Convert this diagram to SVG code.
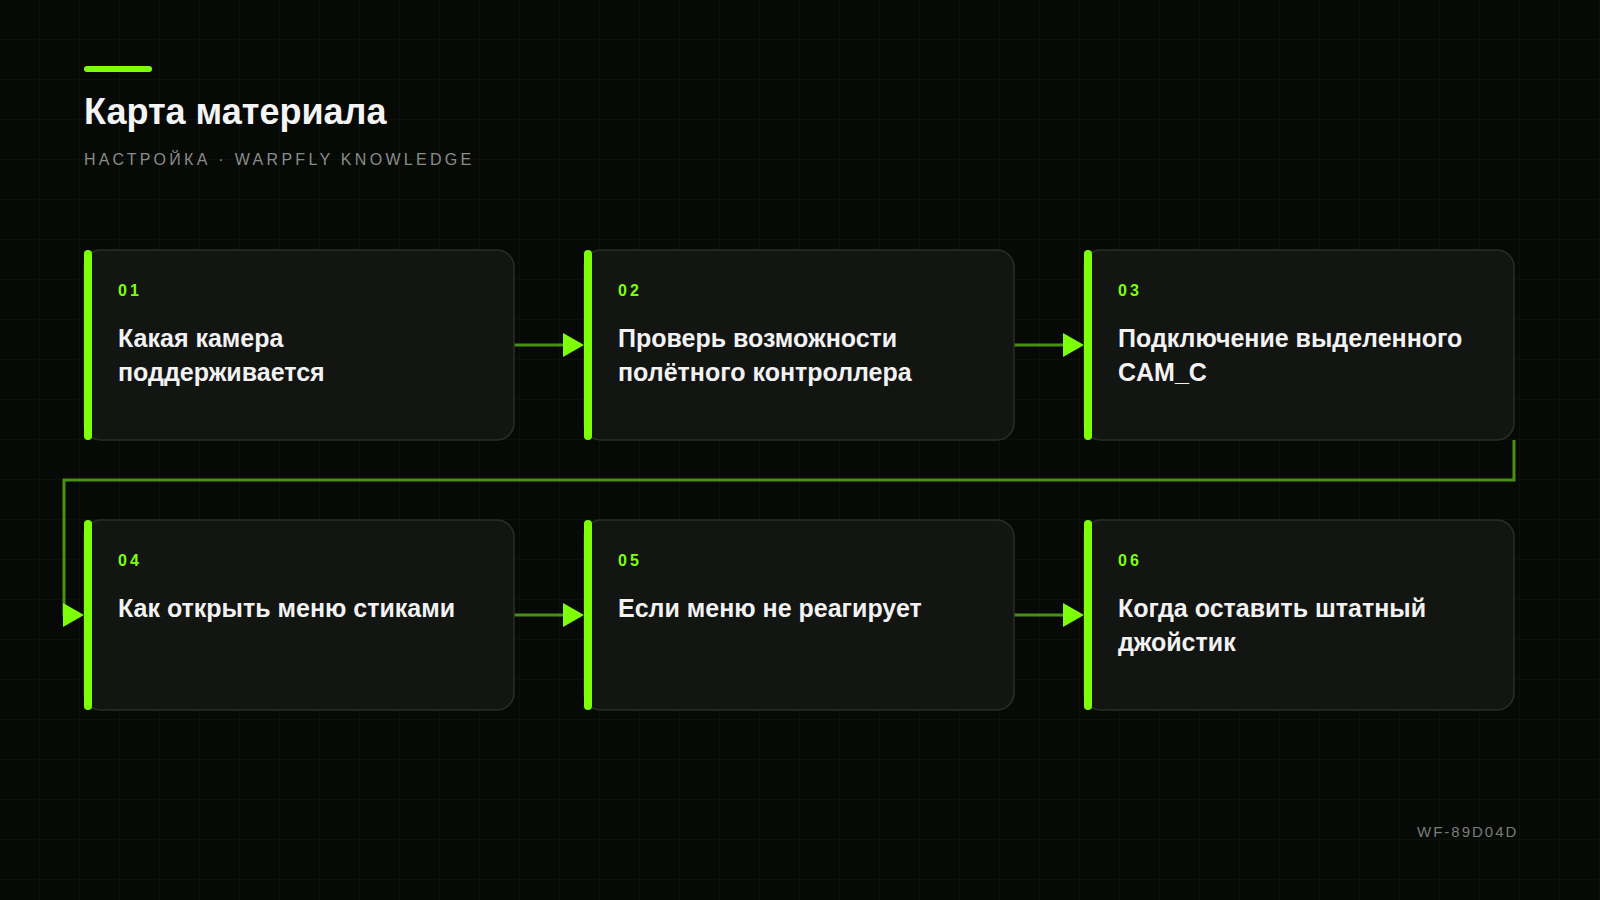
<svg xmlns="http://www.w3.org/2000/svg" width="1600" height="900" viewBox="0 0 1600 900">
  <defs>
    <pattern id="grid" width="40" height="40" patternUnits="userSpaceOnUse">
      <path d="M40 0 V40 M0 40 H40" fill="none" stroke="#111711" stroke-width="1"/>
    </pattern>
    <marker id="arrow" markerUnits="userSpaceOnUse" markerWidth="22" markerHeight="24" refX="2" refY="12" orient="auto" viewBox="0 0 22 24">
      <path d="M0 0 L21 12 L0 24 Z" fill="#7dff0a"/>
    </marker>
  </defs>
  <style>
    .card { fill: #131513; stroke: #2a2e2a; stroke-width: 1.5; }
    .bar { fill: #7dff0a; }
    .num { font-family: "Liberation Sans", Arial, sans-serif; font-size: 16px; font-weight: 700; fill: #7dff0a; letter-spacing: 3px; }
    .ttl { font-family: "Liberation Sans", Arial, sans-serif; font-size: 25px; font-weight: 700; fill: #f2f2f2; }
    .conn { fill: none; stroke: #4a9010; stroke-width: 3; }
  </style>
  <rect width="1600" height="900" fill="#070907"/>
  <rect width="1600" height="900" fill="url(#grid)"/>

  <g id="header">
    <rect x="84" y="66" width="68" height="6" rx="3" fill="#7dff0a"/>
    <text x="84" y="124" font-family="Liberation Sans, Arial, sans-serif" font-size="36" font-weight="700" fill="#f4f4f4">Карта материала</text>
    <text x="84" y="165" font-family="Liberation Sans, Arial, sans-serif" font-size="16" fill="#8a8c8a" letter-spacing="3.3">НАСТРОЙКА · WARPFLY KNOWLEDGE</text>
  </g>

  <g id="connectors">
    <path class="conn" d="M514 345 H565" marker-end="url(#arrow)"/>
    <path class="conn" d="M1014 345 H1065" marker-end="url(#arrow)"/>
    <path class="conn" d="M1514 440 V480 H64 V615 H65" marker-end="url(#arrow)"/>
    <path class="conn" d="M514 615 H565" marker-end="url(#arrow)"/>
    <path class="conn" d="M1014 615 H1065" marker-end="url(#arrow)"/>
  </g>

  <g id="node1">
    <rect class="card" x="84" y="250" width="430" height="190" rx="17"/>
    <rect class="bar" x="84" y="250" width="8" height="190" rx="4"/>
    <text class="num" x="118" y="296">01</text>
    <text class="ttl" x="118" y="347">Какая камера</text>
    <text class="ttl" x="118" y="381">поддерживается</text>
  </g>
  <g id="node2">
    <rect class="card" x="584" y="250" width="430" height="190" rx="17"/>
    <rect class="bar" x="584" y="250" width="8" height="190" rx="4"/>
    <text class="num" x="618" y="296">02</text>
    <text class="ttl" x="618" y="347">Проверь возможности</text>
    <text class="ttl" x="618" y="381">полётного контроллера</text>
  </g>
  <g id="node3">
    <rect class="card" x="1084" y="250" width="430" height="190" rx="17"/>
    <rect class="bar" x="1084" y="250" width="8" height="190" rx="4"/>
    <text class="num" x="1118" y="296">03</text>
    <text class="ttl" x="1118" y="347">Подключение выделенного</text>
    <text class="ttl" x="1118" y="381">CAM_C</text>
  </g>
  <g id="node4">
    <rect class="card" x="84" y="520" width="430" height="190" rx="17"/>
    <rect class="bar" x="84" y="520" width="8" height="190" rx="4"/>
    <text class="num" x="118" y="566">04</text>
    <text class="ttl" x="118" y="617">Как открыть меню стиками</text>
  </g>
  <g id="node5">
    <rect class="card" x="584" y="520" width="430" height="190" rx="17"/>
    <rect class="bar" x="584" y="520" width="8" height="190" rx="4"/>
    <text class="num" x="618" y="566">05</text>
    <text class="ttl" x="618" y="617">Если меню не реагирует</text>
  </g>
  <g id="node6">
    <rect class="card" x="1084" y="520" width="430" height="190" rx="17"/>
    <rect class="bar" x="1084" y="520" width="8" height="190" rx="4"/>
    <text class="num" x="1118" y="566">06</text>
    <text class="ttl" x="1118" y="617">Когда оставить штатный</text>
    <text class="ttl" x="1118" y="651">джойстик</text>
  </g>

  <g id="footer">
    <text x="1417" y="837" font-family="Liberation Sans, Arial, sans-serif" font-size="15" fill="#7a7c7a" letter-spacing="2">WF-89D04D</text>
  </g>
</svg>
